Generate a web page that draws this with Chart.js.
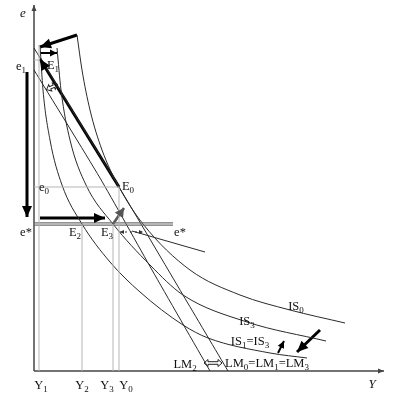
<!DOCTYPE html>
<html>
<head>
<meta charset="utf-8">
<script src="https://cdn.jsdelivr.net/npm/chart.js@4.4.0/dist/chart.umd.min.js"></script>
<style>
  html, body { margin: 0; padding: 0; background: #fff; }
  #wrap { width: 399px; height: 397px; position: relative; }
</style>
</head>
<body>
<div id="wrap"><canvas id="chart"></canvas></div>
<script>
// curves, [Y, e]
const is0 = [[43,336],[48,301],[56,261],[68,221],[85,184],[109,147],[156,101],[206,76],[256,61],[311,48]];
const is3 = [[23,323],[27,281],[36,231],[52,186],[79,147],[116,106],[149,76],[213,49],[292,30]];
const is1 = [[6,326],[9,281],[16,231],[28,186],[48,147],[76,109],[106,79],[149,46],[174,33],[236,18],[273,13]];
const lm0 = [[0,323],[85,184],[149,76],[194,0]];
const lm2 = [[0,301],[66,193],[118,101],[176,0]];
const eSlant = [[98,140],[171,119]];

// levels
const eStar = 147, e0 = 184, e1 = 311;
const yLevels = [5, 48, 79, 85];          // Y1, Y2, Y3, Y0
const yLevelTop = [326, eStar, eStar, e0];

// arrows
const boldArrows = [
  [[43,336],[6,324]],
  [[85,184],[6,312]],
  [[-7,299],[-7,154]],
  [[6,153],[71,153]],
  [[286,41],[263,19]]
];
const thinArrows = [
  [[6,318],[23,318]],
  [[244,18],[250,30]]
];
const greyArrow = [[79,147],[90,163]];
const dotArrow = [[86,139],[109,139]];
const axisEnds = [[[0,0],[0,366]], [[0,0],[350,0]]];
// hollow double arrows [centre, half length]
const swapAt = [[179,8],[18,284]];
const swapHalf = [9, 6];

// texts
const labelText = ['e_1','E_1','e_0','E_0','e*','E_2','E_3','e*','Y_1','Y_2','Y_3','Y_0',
                   'IS_0','IS_3','IS_1=IS_3','LM_2','LM_0=LM_1=LM_3'];
const labelX = [-13,19,10,94,-8,41,73,146,7,48,73,92,262,213,216,151,233];
const labelY = [304,305,183,184,138,138,138,138,-15,-15,-15,-15,64,49,29,6,7];
const axisText = ['e','Y'];
const axisX = [-11,338];
const axisY = [357,-14];

const pts = arr => arr.map(p => ({x: p[0], y: p[1]}));
function line(arr, color, width, extra) {
    return Object.assign({
        data: pts(arr), showLine: true, pointRadius: 0, borderColor: color,
        borderWidth: width, fill: false, clip: false, tension: 0
    }, extra || {});
}

const datasets = [];
// grey guides
yLevels.forEach((v, i) => datasets.push(line([[v,0],[v,yLevelTop[i]]], '#b5b5b5', 1)));
datasets.push(line([[0,e0],[85,e0]], '#b5b5b5', 1));
datasets.push(line([[0,e1],[6,e1]], '#b5b5b5', 1));
datasets.push(line([[0,eStar+1.2],[139,eStar+1.2]], '#6e6e6e', 1.3));
datasets.push(line([[0,eStar-1.2],[139,eStar-1.2]], '#6e6e6e', 1.3));
// curves
[is0, is3, is1].forEach(c => datasets.push(line(c, '#2a2a2a', 1, {cubicInterpolationMode: 'monotone'})));
[lm0, lm2].forEach(c => datasets.push(line(c, '#2a2a2a', 1, {tension: 0.2})));
datasets.push(line(eSlant, '#2a2a2a', 1));
// axes
axisEnds.forEach(a => datasets.push(line(a, '#444', 1.5)));
// arrows
boldArrows.forEach(a => datasets.push(line(a, '#000', 3)));
thinArrows.forEach(a => datasets.push(line(a, '#000', 2)));
datasets.push(line(greyArrow, '#555', 2.5));
datasets.push(line(dotArrow, '#333', 1, {borderDash: [2, 3]}));

function head(ctx, x0, y0, x1, y1, len, wid, color) {
    const a = Math.atan2(y1 - y0, x1 - x0);
    ctx.save();
    ctx.translate(x1, y1);
    ctx.rotate(a);
    ctx.fillStyle = color;
    ctx.beginPath();
    ctx.moveTo(0, 0);
    ctx.lineTo(-len, -wid);
    ctx.lineTo(-len, wid);
    ctx.closePath();
    ctx.fill();
    ctx.restore();
}

function hollow(ctx, cx, cy, L, rot) {
    ctx.save();
    ctx.translate(cx, cy);
    ctx.rotate(rot);
    ctx.strokeStyle = '#222';
    ctx.lineWidth = 1;
    ctx.beginPath();
    ctx.moveTo(-L, 0);
    ctx.lineTo(-L + 4, -3.5);
    ctx.lineTo(-L + 4, -1.3);
    ctx.lineTo(L - 4, -1.3);
    ctx.lineTo(L - 4, -3.5);
    ctx.lineTo(L, 0);
    ctx.lineTo(L - 4, 3.5);
    ctx.lineTo(L - 4, 1.3);
    ctx.lineTo(-L + 4, 1.3);
    ctx.lineTo(-L + 4, 3.5);
    ctx.closePath();
    ctx.stroke();
    ctx.restore();
}

function drawLabel(ctx, str, px, py, size, italic) {
    const parts = [];
    for (let i = 0; i < str.length; i++) {
        if (str[i] === '_') { parts.push({t: str[i + 1], sub: true}); i++; }
        else parts.push({t: str[i], sub: false});
    }
    const font = s => (italic ? 'italic ' : '') + s + 'px "Liberation Serif", "DejaVu Serif", serif';
    let w = 0;
    parts.forEach(p => {
        ctx.font = font(p.sub ? size * 0.72 : size);
        p.w = ctx.measureText(p.t).width;
        w += p.w;
    });
    let cx = px - w / 2;
    parts.forEach(p => {
        ctx.font = font(p.sub ? size * 0.72 : size);
        ctx.fillText(p.t, cx, py + (p.sub ? size * 0.3 : 0));
        cx += p.w;
    });
}

const overlay = {
    id: 'overlay',
    afterDatasetsDraw(chart) {
        const ctx = chart.ctx;
        const sx = chart.scales.x, sy = chart.scales.y;
        const P = p => [sx.getPixelForValue(p[0]), sy.getPixelForValue(p[1])];
        const arrow = (a, len, wid, color, both) => {
            const s = P(a[0]), e = P(a[1]);
            head(ctx, s[0], s[1], e[0], e[1], len, wid, color);
            if (both) head(ctx, e[0], e[1], s[0], s[1], len, wid, color);
        };
        boldArrows.forEach(a => arrow(a, 11, 5, '#000'));
        thinArrows.forEach(a => arrow(a, 7, 3.5, '#000'));
        arrow(greyArrow, 9, 5, '#555');
        arrow(dotArrow, 4, 2, '#333', true);
        axisEnds.forEach(a => arrow(a, 6, 2.5, '#444'));

        swapAt.forEach((c, i) => {
            const q = P(c);
            hollow(ctx, q[0], q[1], swapHalf[i], i === 1 ? -0.45 : 0);
        });

        ctx.save();
        ctx.fillStyle = '#111';
        ctx.textBaseline = 'middle';
        labelText.forEach((t, i) => {
            drawLabel(ctx, t, sx.getPixelForValue(labelX[i]), sy.getPixelForValue(labelY[i]), 12.5, false);
        });
        axisText.forEach((t, i) => {
            drawLabel(ctx, t, sx.getPixelForValue(axisX[i]), sy.getPixelForValue(axisY[i]), 13, true);
        });
        ctx.restore();
    }
};

new Chart(document.getElementById('chart'), {
    type: 'scatter',
    data: { datasets: datasets },
    options: {
        responsive: true,
        maintainAspectRatio: false,
        animation: false,
        layout: { padding: { left: 34, top: 8, right: 17, bottom: 26 } },
        plugins: { legend: { display: false }, tooltip: { enabled: false } },
        scales: {
            x: { type: 'linear', min: 0, max: 348, display: false },
            y: { type: 'linear', min: 0, max: 363, display: false }
        }
    },
    plugins: [overlay]
});
</script>
</body>
</html>
